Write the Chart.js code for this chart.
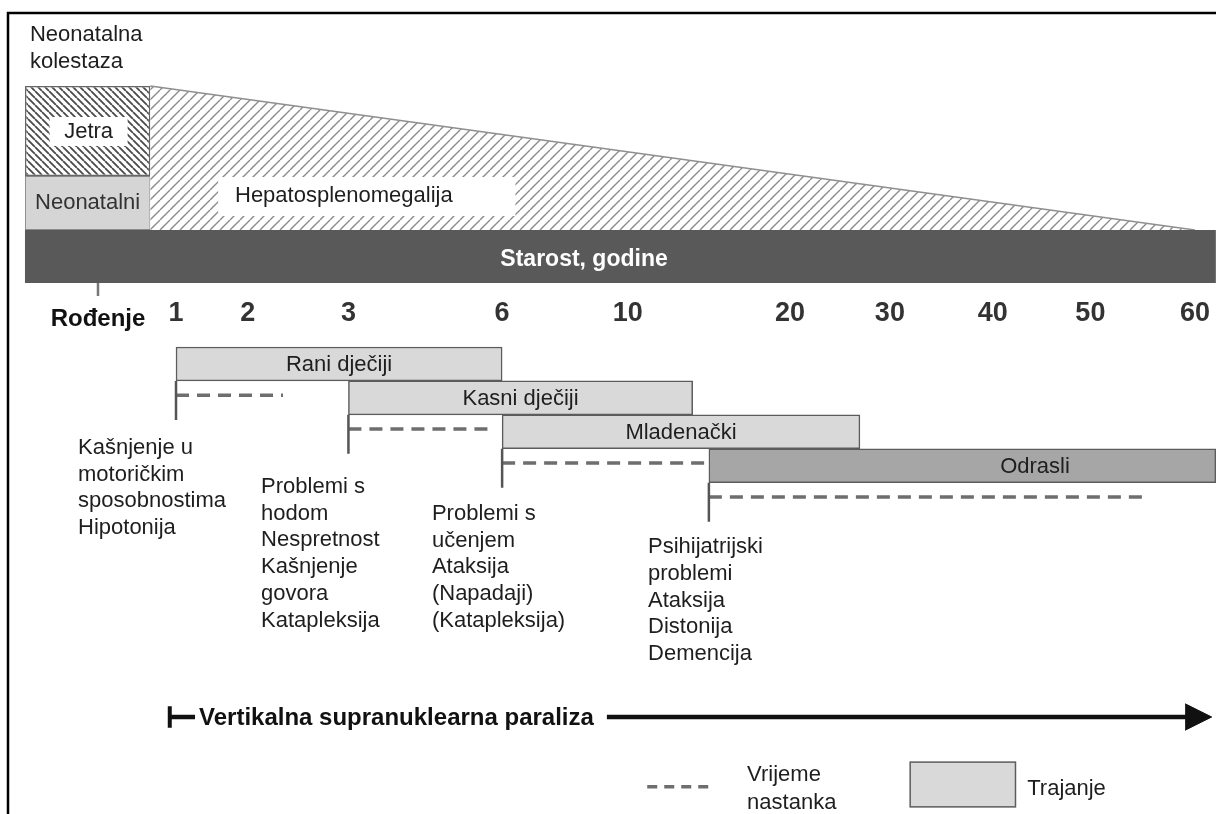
<!DOCTYPE html>
<html>
<head>
<meta charset="utf-8">
<script src="https://cdn.jsdelivr.net/npm/chart.js@4.4.1/dist/chart.umd.min.js"></script>
<style>
html,body{margin:0;padding:0;background:#fff;overflow:hidden}
canvas{display:block}
</style>
</head>
<body>
<canvas id="chart" width="1216" height="814"></canvas>
<script>
// ================= DATA =================
const ageTicks   = [0, 1, 2, 3, 6, 10, 20, 30, 40, 50, 60];
const tickLabels = ['Rođenje', '1', '2', '3', '6', '10', '20', '30', '40', '50', '60'];
const phaseNames = ['Rani dječiji', 'Kasni dječiji', 'Mladenački', 'Odrasli'];
const phaseStart = [1, 3, 6, 15];          // age (years) where each form starts
const phaseEnd   = [6, 14, 27, 62];        // age where each form's duration bar ends
const onsetEnd   = [2.35, 5.8, 14.9, 55.4];// end of the dashed "time of onset" line
const symptoms = [
  ['Kašnjenje u', 'motoričkim', 'sposobnostima', 'Hipotonija'],
  ['Problemi s', 'hodom', 'Nespretnost', 'Kašnjenje', 'govora', 'Katapleksija'],
  ['Problemi s', 'učenjem', 'Ataksija', '(Napadaji)', '(Katapleksija)'],
  ['Psihijatrijski', 'problemi', 'Ataksija', 'Distonija', 'Demencija']
];
const neonatalEnd = 0.67;   // age where the neonatal / liver block ends
const hepatoEnd   = 60;     // age where hepatosplenomegaly tapers out
const vspStart    = 0.92;   // vertical supranuclear palsy arrow start
const vspEnd      = 61.6;   // arrow tip
const ageAxisEnd  = 62;     // age at right edge of the age band

// ================= AXIS GEOMETRY (hand-drawn, non-uniform age axis) =================
const tickSlots = [0, 1, 1.92, 3.21, 5.18, 6.79, 8.87, 10.15, 11.47, 12.72, 14.06];
function slot(age) {
  let i = 1;
  while (i < ageTicks.length - 1 && age > ageTicks[i]) i++;
  const a0 = ageTicks[i - 1], a1 = ageTicks[i], s0 = tickSlots[i - 1], s1 = tickSlots[i];
  return s0 + (age - a0) * (s1 - s0) / (a1 - a0);
}
const X_MIN = -1.256, X_MAX = 14.33, Y_MAX = 24;

// layout in scale units (x: axis slots, y: rows)
const L = {
  blockStart: -0.936,
  jetra: { y: 3.862, h: 2.654 },
  neo: { y: 5.985, h: 1.592 },
  ageBar: { y: 7.563, h: 1.563 },
  axisY: 8.786,
  hepTop: 2.536, hepBottom: 6.781,
  row0: 10.73,
  dashDrop: 0.42,
  stemDrop: 1.15,
  textLeft: [-0.256, 2.09, 4.28, 7.05],
  textTop: [13.21, 14.36, 15.15, 16.13],
  lineStep: 0.787,
  titleX: -0.872, titleY: [1.03, 1.83],
  hepBox: [1.54, 5.35, 5.22, 6.37], hepText: [1.756, 5.78],
  ageLabelX: 6.23,
  odrasliLabelX: 12.01,
  arrowY: 21.14, arrowBarH: 0.32, arrowTextX: 1.295,
  headLen: 0.34, headHalf: 0.39,
  legDash: [7.04, 7.87, 23.2],
  legText1: [8.32, 22.85, 23.68],
  legRect: [10.41, 11.76, 22.47, 23.79],
  legText2: [11.91, 23.26]
};

const FONT = "'Liberation Sans', Arial, Helvetica, sans-serif";
Chart.defaults.font.family = FONT;

const canvas = document.getElementById('chart');
const mainCtx = canvas.getContext('2d');
function hatch(size, dir, color, lw) {
  const c = document.createElement('canvas');
  c.width = c.height = size;
  const g = c.getContext('2d');
  g.fillStyle = '#fff'; g.fillRect(0, 0, size, size);
  g.strokeStyle = color; g.lineWidth = lw;
  g.beginPath();
  for (const k of [-size, 0, size]) {
    if (dir === '/') { g.moveTo(k, size); g.lineTo(k + size, 0); }
    else { g.moveTo(k, 0); g.lineTo(k + size, size); }
  }
  g.stroke();
  return mainCtx.createPattern(c, 'repeat');
}
const liverHatch = hatch(7, '\\', '#4a4a4a', 1.8);
const hepHatch = hatch(10, '/', '#8a8a8a', 1.4);

// ================= DATASETS =================
const datasets = [];
const hbar = (extra) => Object.assign({
  type: 'bar', indexAxis: 'y', grouped: false, categoryPercentage: 1,
  borderSkipped: false
}, extra);

// hepatosplenomegaly wedge
datasets.push({
  type: 'line', label: 'Hepatosplenomegalija', order: 10,
  data: [{ x: slot(neonatalEnd), y: L.hepTop }, { x: slot(hepatoEnd), y: L.hepBottom }],
  borderColor: '#8f8f8f', borderWidth: 1.5, pointRadius: 0,
  backgroundColor: hepHatch, fill: { value: L.hepBottom }
});
// liver (Jetra) block
datasets.push(hbar({
  label: 'Jetra', order: 9, barPercentage: L.jetra.h,
  data: [{ x: [L.blockStart, slot(neonatalEnd)], y: L.jetra.y }],
  backgroundColor: liverHatch, borderColor: '#666', borderWidth: 1.5
}));
// neonatal block
datasets.push(hbar({
  label: 'Neonatalni', order: 9, barPercentage: L.neo.h,
  data: [{ x: [L.blockStart, slot(neonatalEnd)], y: L.neo.y }],
  backgroundColor: '#d5d5d5', borderColor: '#8a8a8a', borderWidth: 1
}));
// age band
datasets.push(hbar({
  label: 'Starost, godine', order: 8, barPercentage: L.ageBar.h,
  data: [{ x: [L.blockStart, slot(ageAxisEnd)], y: L.ageBar.y }],
  backgroundColor: '#595959', borderWidth: 0
}));
// clinical forms (duration)
datasets.push(hbar({
  label: 'Trajanje', order: 5, barPercentage: 1,
  data: phaseNames.map((n, i) => ({ x: [slot(phaseStart[i]), slot(phaseEnd[i])], y: L.row0 + i })),
  backgroundColor: phaseNames.map((n, i) => i === 3 ? '#a6a6a6' : '#d9d9d9'),
  borderColor: '#5c5c5c', borderWidth: 1.5
}));
// onset dashed lines and stems
phaseNames.forEach((n, i) => {
  const bottom = L.row0 + i + 0.5;
  datasets.push({
    type: 'line', label: 'Vrijeme nastanka ' + n, order: 3,
    data: [{ x: slot(phaseStart[i]), y: bottom + L.dashDrop }, { x: slot(onsetEnd[i]), y: bottom + L.dashDrop }],
    borderColor: '#6e6e6e', borderWidth: 3.5, borderDash: [13, 8], pointRadius: 0, fill: false
  });
  datasets.push({
    type: 'line', label: 'stem ' + n, order: 2,
    data: [{ x: slot(phaseStart[i]), y: bottom }, { x: slot(phaseStart[i]), y: bottom + L.stemDrop }],
    borderColor: '#555', borderWidth: 2.5, pointRadius: 0, fill: false
  });
});
// birth tick
const bandBottom = L.ageBar.y + L.ageBar.h / 2;
datasets.push({
  type: 'line', label: 'birth', order: 2,
  data: [{ x: slot(0), y: bandBottom }, { x: slot(0), y: bandBottom + 0.38 }],
  borderColor: '#777', borderWidth: 2.5, pointRadius: 0, fill: false
});
// vertical supranuclear palsy arrow
const tip = slot(vspEnd);
datasets.push({
  type: 'line', label: 'Vertikalna supranuklearna paraliza', order: 1,
  data: [{ x: slot(vspStart), y: L.arrowY }, { x: tip - L.headLen / 2, y: L.arrowY }],
  borderColor: '#111', borderWidth: 4.5, pointRadius: 0, fill: false
});
datasets.push({
  type: 'line', label: 'arrow head', order: 1,
  data: [{ x: tip - L.headLen, y: L.arrowY - L.headHalf }, { x: tip, y: L.arrowY }, { x: tip - L.headLen, y: L.arrowY + L.headHalf }],
  borderColor: '#111', borderWidth: 1, pointRadius: 0, backgroundColor: '#111', fill: 'shape'
});
datasets.push({
  type: 'line', label: 'vsp start', order: 1,
  data: [{ x: slot(vspStart), y: L.arrowY - L.arrowBarH }, { x: slot(vspStart), y: L.arrowY + L.arrowBarH }],
  borderColor: '#111', borderWidth: 4, pointRadius: 0, fill: false
});

// ================= TEXT / FRAME PLUGIN =================
function txt(ctx, s, x, y, o = {}) {
  ctx.font = `${o.weight || 'normal'} ${o.size || 22}px ${FONT}`;
  ctx.fillStyle = o.color || '#1e1e1e';
  ctx.textAlign = o.align || 'left';
  ctx.textBaseline = 'middle';
  ctx.fillText(s, x, y);
  return ctx.measureText(s).width;
}
const annotations = {
  id: 'annotations',
  beforeDraw(chart) {
    const { ctx, width, height } = chart;
    ctx.save();
    ctx.fillStyle = '#fff'; ctx.fillRect(0, 0, width, height);
    ctx.strokeStyle = '#000'; ctx.lineWidth = 2.5;
    ctx.beginPath(); ctx.moveTo(8, height); ctx.lineTo(8, 13); ctx.lineTo(width, 13); ctx.stroke();
    ctx.restore();
  },
  afterDatasetsDraw(chart) {
    const { ctx } = chart;
    const X = v => chart.scales.x.getPixelForValue(v);
    const Y = v => chart.scales.y.getPixelForValue(v);
    ctx.save();
    // title
    txt(ctx, 'Neonatalna', X(L.titleX), Y(L.titleY[0]));
    txt(ctx, 'kolestaza', X(L.titleX), Y(L.titleY[1]));
    // Jetra
    const jb = chart.getDatasetMeta(1).data[0];
    const jx = (jb.x + jb.base) / 2;
    ctx.fillStyle = '#fff';
    ctx.fillRect(jx - 38, jb.y - 14, 78, 29);
    txt(ctx, 'Jetra', jx + 1, jb.y + 1, { align: 'center' });
    // Neonatalni
    const nb = chart.getDatasetMeta(2).data[0];
    txt(ctx, 'Neonatalni', (nb.x + nb.base) / 2, nb.y, { align: 'center', color: '#333' });
    // Hepatosplenomegalija
    ctx.fillStyle = '#fff';
    ctx.fillRect(X(L.hepBox[0]), Y(L.hepBox[2]), X(L.hepBox[1]) - X(L.hepBox[0]), Y(L.hepBox[3]) - Y(L.hepBox[2]));
    txt(ctx, 'Hepatosplenomegalija', X(L.hepText[0]), Y(L.hepText[1]));
    // age band label
    const ab = chart.getDatasetMeta(3).data[0];
    txt(ctx, 'Starost, godine', X(L.ageLabelX), ab.y + 3, { align: 'center', weight: 'bold', color: '#fff', size: 23 });
    // phase labels
    chart.getDatasetMeta(4).data.forEach((b, i) => {
      const cx = i === 3 ? X(L.odrasliLabelX) : (b.x + b.base) / 2;
      txt(ctx, phaseNames[i], cx, b.y + 1, { align: 'center' });
    });
    // symptoms
    symptoms.forEach((lines, i) => {
      lines.forEach((s, j) => txt(ctx, s, X(L.textLeft[i]), Y(L.textTop[i] + j * L.lineStep)));
    });
    // arrow label
    const label = 'Vertikalna supranuklearna paraliza';
    ctx.font = `bold 24px ${FONT}`;
    const w = ctx.measureText(label).width;
    const tx = X(L.arrowTextX), ty = Y(L.arrowY);
    ctx.fillStyle = '#fff';
    ctx.fillRect(tx - 4, ty - 15, w + 17, 30);
    txt(ctx, label, tx, ty + 1, { weight: 'bold', size: 24, color: '#111' });
    // legend
    ctx.strokeStyle = '#6e6e6e'; ctx.lineWidth = 3.5; ctx.setLineDash([10, 7]);
    ctx.beginPath(); ctx.moveTo(X(L.legDash[0]), Y(L.legDash[2])); ctx.lineTo(X(L.legDash[1]), Y(L.legDash[2])); ctx.stroke();
    ctx.setLineDash([]);
    txt(ctx, 'Vrijeme', X(L.legText1[0]), Y(L.legText1[1]));
    txt(ctx, 'nastanka', X(L.legText1[0]), Y(L.legText1[2]));
    ctx.fillStyle = '#d9d9d9'; ctx.strokeStyle = '#5c5c5c'; ctx.lineWidth = 1.5;
    const rx = X(L.legRect[0]), ry = Y(L.legRect[2]), rw = X(L.legRect[1]) - rx, rh = Y(L.legRect[3]) - ry;
    ctx.fillRect(rx, ry, rw, rh); ctx.strokeRect(rx, ry, rw, rh);
    txt(ctx, 'Trajanje', X(L.legText2[0]), Y(L.legText2[1]));
    ctx.restore();
  }
};

new Chart(canvas, {
  data: { datasets },
  plugins: [annotations],
  options: {
    responsive: false, animation: false, devicePixelRatio: 1,
    layout: { padding: 0, autoPadding: false },
    plugins: { legend: { display: false }, tooltip: { enabled: false } },
    scales: {
      x: {
        type: 'linear', min: X_MIN, max: X_MAX, offset: false, position: { y: L.axisY },
        grid: { display: false, drawTicks: false }, border: { display: false },
        afterBuildTicks: s => { s.ticks = ageTicks.map(a => ({ value: slot(a) })); },
        ticks: {
          autoSkip: false, maxRotation: 0, minRotation: 0, padding: 0,
          callback: (v, i) => tickLabels[i],
          color: c => c.index === 0 ? '#111' : '#333',
          font: c => c.index === 0
            ? { family: FONT, size: 24, weight: 'bold', lineHeight: 1.75 }
            : { family: FONT, size: 27, weight: 'bold', lineHeight: 1.13 }
        }
      },
      y: { type: 'linear', min: 0, max: Y_MAX, reverse: true, offset: false, display: false, ticks: { stepSize: 1 } }
    }
  }
});
</script>
</body>
</html>
